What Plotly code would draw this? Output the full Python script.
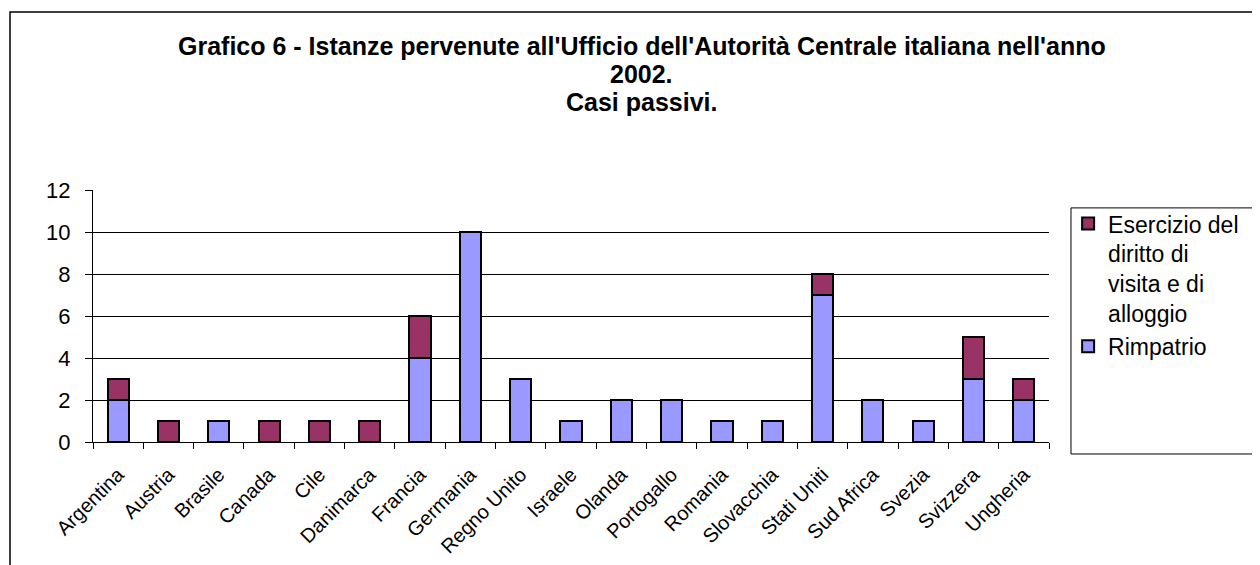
import plotly.graph_objs as go

paesi = ['Argentina', 'Austria', 'Brasile', 'Canada', 'Cile', 'Danimarca', 'Francia',
         'Germania', 'Regno Unito', 'Israele', 'Olanda', 'Portogallo', 'Romania',
         'Slovacchia', 'Stati Uniti', 'Sud Africa', 'Svezia', 'Svizzera', 'Ungheria']
rimpatrio = [2, 0, 1, 0, 0, 0, 4, 10, 3, 1, 2, 2, 1, 1, 7, 2, 1, 3, 2]
esercizio = [1, 1, 0, 1, 1, 1, 2, 0, 0, 0, 0, 0, 0, 0, 1, 0, 0, 2, 1]

titolo = ["Grafico 6 - Istanze pervenute all'Ufficio dell'Autorità Centrale italiana nell'anno",
          "2002.", "Casi passivi."]

font = 'Arial, Liberation Sans, sans-serif'

trace1 = go.Bar(x=paesi, y=rimpatrio, name='Rimpatrio',
                marker=dict(color='#9999FF', line=dict(color='black', width=2)))
trace2 = go.Bar(x=paesi, y=esercizio, name='Esercizio del<br>diritto di<br>visita e di<br>alloggio',
                marker=dict(color='#993366', line=dict(color='black', width=2)))

# title lines as separate annotations (tighter line spacing than plotly's title)
annotations = []
for i, riga in enumerate(titolo):
    annotations.append(dict(text='<b>' + riga + '</b>', xref='paper', yref='paper',
                            x=0.574, y=1.5714 - i * 0.1111, xanchor='center', yanchor='middle',
                            borderpad=0, showarrow=False,
                            font=dict(size=25, family=font, color='black')))

layout = go.Layout(
    barmode='stack',
    bargap=0.58,
    width=1252, height=557,
    margin=dict(l=85, r=211, t=182, b=123),
    paper_bgcolor='white', plot_bgcolor='white',
    font=dict(family=font, color='black'),
    yaxis=dict(range=[0, 12], dtick=2, showgrid=True, gridcolor='black', gridwidth=1,
               showline=True, linecolor='black', linewidth=1, automargin=False,
               ticks='outside', ticklen=7, tickcolor='black', ticklabelstandoff=10,
               tickfont=dict(size=22), zeroline=False),
    xaxis=dict(tickangle=-45, showline=True, linecolor='black', linewidth=1, automargin=False,
               ticks='outside', ticklen=6, tickcolor='black', tickson='boundaries',
               ticklabelstandoff=12, tickfont=dict(size=20)),
    legend=dict(x=1.02, y=0.952, xanchor='left', yanchor='top', traceorder='reversed',
                valign='top', font=dict(size=23), bgcolor='rgba(0,0,0,0)', borderwidth=0),
    annotations=annotations,
    shapes=[
        dict(type='rect', xref='paper', yref='paper', x0=-0.0868, x1=1.5, y0=-1.0, y1=1.706,
             line=dict(color='black', width=1.5)),
        dict(type='rect', xref='paper', yref='paper', x0=1.023, x1=1.3, y0=-0.0476, y1=0.929,
             line=dict(color='black', width=1)),
    ],
)

fig = go.Figure(data=[trace1, trace2], layout=layout)
fig.write_html('out.html')
